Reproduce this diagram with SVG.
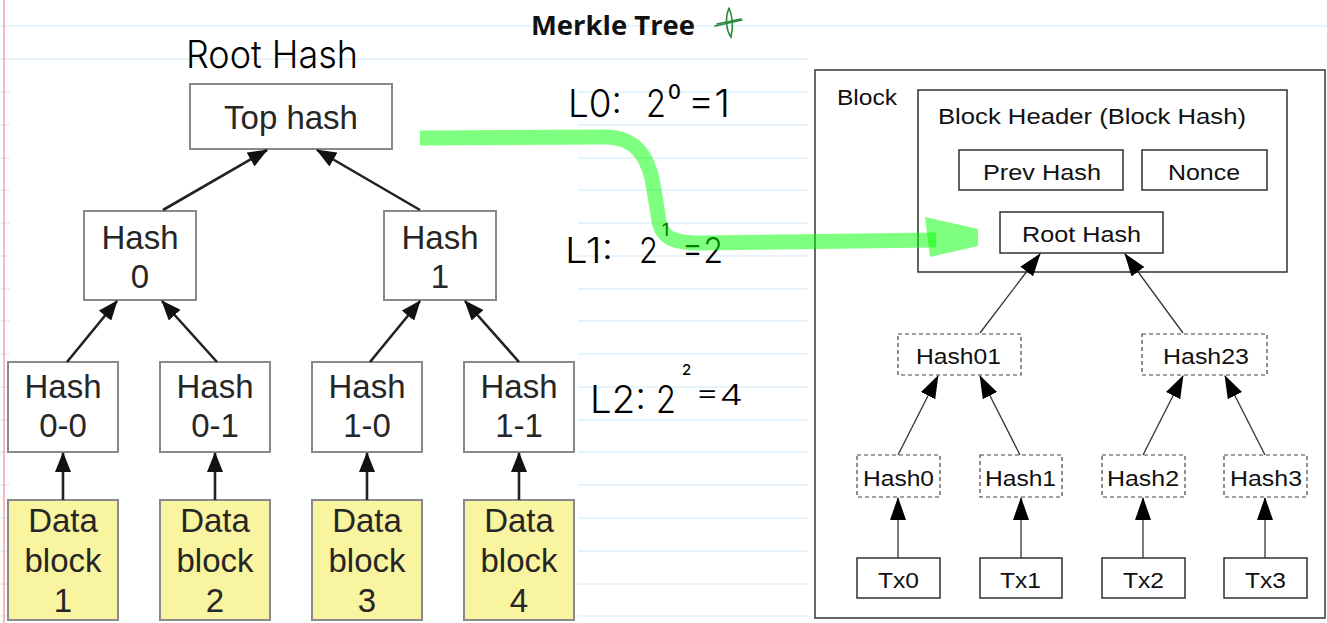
<svg xmlns="http://www.w3.org/2000/svg" width="1327" height="623" viewBox="0 0 1327 623">
  <style>
    .rule { stroke: #cfe8f6; stroke-width: 1; }
    .lbox { fill: #ffffff; stroke: #8a8a8a; stroke-width: 2; }
    .dbox { fill: #f8f4a0; stroke: #8a8a8a; stroke-width: 2; }
    .ltxt { font-family: "Liberation Sans", Arial, sans-serif; font-size: 33px; fill: #262626; text-anchor: middle; }
    .larrow { stroke: #222; stroke-width: 2.6; fill: none; marker-end: url(#lhead); }
    .rbox { fill: #ffffff; stroke: #222; stroke-width: 1.4; }
    .rdash { fill: #ffffff; stroke: #444; stroke-width: 1.2; stroke-dasharray: 4 3; }
    .rtxt { font-family: "Liberation Sans", Arial, sans-serif; font-size: 22px; fill: #111; }
    .rarrow { stroke: #333; stroke-width: 1.3; fill: none; marker-end: url(#rhead); }
    .hand { font-family: Inter, Lato, "Liberation Sans", sans-serif; font-weight: 300; fill: #000; }
    .sup { font-weight: 500; }
    .hl { fill: none; stroke: #00ff00; stroke-opacity: 0.5; stroke-width: 15; }
  </style>
  <defs>
    <marker id="lhead" markerUnits="userSpaceOnUse" markerWidth="20" markerHeight="16" refX="19" refY="8" orient="auto">
      <path d="M0,0 L20,8 L0,16 z" fill="#111"/>
    </marker>
    <marker id="rhead" markerUnits="userSpaceOnUse" markerWidth="23" markerHeight="16" refX="22" refY="8" orient="auto">
      <path d="M0,0 L23,8 L0,16 z" fill="#000"/>
    </marker>
  </defs>

  <!-- notebook page -->
  <rect x="0" y="0" width="1327" height="623" fill="#ffffff"/>
  <g id="ruling">
    <line class="rule" x1="0" y1="26" x2="1327" y2="26"/>
    <line class="rule" x1="0" y1="59" x2="1327" y2="59"/>
    <line class="rule" x1="0" y1="92" x2="1327" y2="92"/>
    <line class="rule" x1="0" y1="125" x2="1327" y2="125"/>
    <line class="rule" x1="0" y1="158" x2="1327" y2="158"/>
    <line class="rule" x1="0" y1="190" x2="1327" y2="190"/>
    <line class="rule" x1="0" y1="223" x2="1327" y2="223"/>
    <line class="rule" x1="0" y1="256" x2="1327" y2="256"/>
    <line class="rule" x1="0" y1="289" x2="1327" y2="289"/>
    <line class="rule" x1="0" y1="321" x2="1327" y2="321"/>
    <line class="rule" x1="0" y1="354" x2="1327" y2="354"/>
    <line class="rule" x1="0" y1="387" x2="1327" y2="387"/>
    <line class="rule" x1="0" y1="420" x2="1327" y2="420"/>
    <line class="rule" x1="0" y1="452" x2="1327" y2="452"/>
    <line class="rule" x1="0" y1="485" x2="1327" y2="485"/>
    <line class="rule" x1="0" y1="518" x2="1327" y2="518"/>
    <line class="rule" x1="0" y1="551" x2="1327" y2="551"/>
    <line class="rule" x1="0" y1="584" x2="1327" y2="584"/>
    <line class="rule" x1="0" y1="616" x2="1327" y2="616"/>
  </g>
  <!-- pasted picture backgrounds -->
  <rect x="10" y="63" width="568" height="560" fill="#ffffff"/>
  <rect x="808" y="56" width="519" height="567" fill="#ffffff"/>
  <line x1="4" y1="0" x2="4" y2="623" stroke="#f28b8b" stroke-width="1.2"/>

  <!-- title -->
  <text x="531" y="35" font-family="'Open Sans', 'Noto Sans', sans-serif" font-weight="700" font-size="27" fill="#111" textLength="164" lengthAdjust="spacingAndGlyphs">Merkle Tree</text>
  <g id="title-mark" stroke="#2a8a3a" stroke-width="1.6" fill="none" stroke-linecap="round">
    <path d="M729,8 C725,18 726,30 731,37 C733,28 733,17 729,8"/>
    <path d="M715,26 L742,20"/>
    <path d="M717,24 L741,19"/>
  </g>

  <!-- handwritten notes -->
  <text class="hand" x="186" y="68" font-size="38" textLength="172" lengthAdjust="spacingAndGlyphs">Root Hash</text>
  <g id="level-notes">
    <text class="hand" x="568" y="117" font-size="38" textLength="54" lengthAdjust="spacingAndGlyphs">L0:</text>
    <text class="hand" x="646" y="117" font-size="38" textLength="20" lengthAdjust="spacingAndGlyphs">2</text>
    <text class="hand sup" x="668" y="99" font-size="20">0</text>
    <text class="hand" x="688" y="117" font-size="38" textLength="42" lengthAdjust="spacingAndGlyphs">=1</text>

    <text class="hand" x="565" y="263" font-size="36" textLength="48" lengthAdjust="spacingAndGlyphs">L1:</text>
    <text class="hand" x="639" y="263" font-size="36" textLength="19" lengthAdjust="spacingAndGlyphs">2</text>
    <text class="hand sup" x="662" y="236" font-size="17">1</text>
    <text class="hand" x="682" y="263" font-size="36" textLength="41" lengthAdjust="spacingAndGlyphs">=2</text>

    <text class="hand" x="590" y="413" font-size="38" textLength="56" lengthAdjust="spacingAndGlyphs">L2:</text>
    <text class="hand" x="656" y="413" font-size="38" textLength="20" lengthAdjust="spacingAndGlyphs">2</text>
    <text class="hand sup" x="682" y="375" font-size="15">2</text>
    <text class="hand" x="695" y="405" font-size="29" font-weight="600" textLength="48" lengthAdjust="spacingAndGlyphs">=4</text>
  </g>

  <!-- hash tree -->
  <g id="top-hash">
    <rect class="lbox" x="190" y="84" width="202" height="65"/>
    <text class="ltxt" x="291" y="129" font-size="34">Top hash</text>
  </g>
  <g id="hash-0">
    <rect class="lbox" x="84" y="211" width="112" height="89"/>
    <text class="ltxt" x="140" y="249">Hash</text>
    <text class="ltxt" x="140" y="288">0</text>
  </g>
  <g id="hash-1">
    <rect class="lbox" x="384" y="211" width="112" height="89"/>
    <text class="ltxt" x="440" y="249">Hash</text>
    <text class="ltxt" x="440" y="288">1</text>
  </g>
  <g id="hash-0-0">
    <rect class="lbox" x="8" y="362" width="110" height="90"/>
    <text class="ltxt" x="63" y="398">Hash</text>
    <text class="ltxt" x="63" y="437">0-0</text>
  </g>
  <g id="hash-0-1">
    <rect class="lbox" x="160" y="362" width="110" height="90"/>
    <text class="ltxt" x="215" y="398">Hash</text>
    <text class="ltxt" x="215" y="437">0-1</text>
  </g>
  <g id="hash-1-0">
    <rect class="lbox" x="312" y="362" width="110" height="90"/>
    <text class="ltxt" x="367" y="398">Hash</text>
    <text class="ltxt" x="367" y="437">1-0</text>
  </g>
  <g id="hash-1-1">
    <rect class="lbox" x="464" y="362" width="110" height="90"/>
    <text class="ltxt" x="519" y="398">Hash</text>
    <text class="ltxt" x="519" y="437">1-1</text>
  </g>
  <g id="data-block-1">
    <rect class="dbox" x="8" y="500" width="110" height="120"/>
    <text class="ltxt" x="63" y="532">Data</text>
    <text class="ltxt" x="63" y="572">block</text>
    <text class="ltxt" x="63" y="612">1</text>
  </g>
  <g id="data-block-2">
    <rect class="dbox" x="160" y="500" width="110" height="120"/>
    <text class="ltxt" x="215" y="532">Data</text>
    <text class="ltxt" x="215" y="572">block</text>
    <text class="ltxt" x="215" y="612">2</text>
  </g>
  <g id="data-block-3">
    <rect class="dbox" x="312" y="500" width="110" height="120"/>
    <text class="ltxt" x="367" y="532">Data</text>
    <text class="ltxt" x="367" y="572">block</text>
    <text class="ltxt" x="367" y="612">3</text>
  </g>
  <g id="data-block-4">
    <rect class="dbox" x="464" y="500" width="110" height="120"/>
    <text class="ltxt" x="519" y="532">Data</text>
    <text class="ltxt" x="519" y="572">block</text>
    <text class="ltxt" x="519" y="612">4</text>
  </g>
  <g id="tree-connectors">
    <line class="larrow" x1="163" y1="210" x2="267" y2="150"/>
    <line class="larrow" x1="420" y1="210" x2="317" y2="150"/>
    <line class="larrow" x1="67" y1="362" x2="117" y2="301"/>
    <line class="larrow" x1="217" y1="362" x2="162" y2="301"/>
    <line class="larrow" x1="370" y1="362" x2="420" y2="301"/>
    <line class="larrow" x1="519" y1="362" x2="465" y2="301"/>
    <line class="larrow" x1="63" y1="500" x2="63" y2="453"/>
    <line class="larrow" x1="215" y1="500" x2="215" y2="453"/>
    <line class="larrow" x1="367" y1="500" x2="367" y2="453"/>
    <line class="larrow" x1="519" y1="500" x2="519" y2="453"/>
  </g>

  <!-- block structure -->
  <g id="block">
    <rect x="815" y="70" width="510" height="548" fill="none" stroke="#444" stroke-width="1.6"/>
    <text class="rtxt" x="837" y="105" textLength="60" lengthAdjust="spacingAndGlyphs">Block</text>
  </g>
  <g id="block-header">
    <rect class="rbox" x="918" y="90" width="369" height="182" fill="none"/>
    <text class="rtxt" x="938" y="124" textLength="308" lengthAdjust="spacingAndGlyphs">Block Header (Block Hash)</text>
  </g>
  <g id="prev-hash">
    <rect class="rbox" x="959" y="150" width="164" height="40"/>
    <text class="rtxt" x="983" y="180" textLength="118" lengthAdjust="spacingAndGlyphs">Prev Hash</text>
  </g>
  <g id="nonce">
    <rect class="rbox" x="1142" y="150" width="125" height="40"/>
    <text class="rtxt" x="1168" y="180" textLength="72" lengthAdjust="spacingAndGlyphs">Nonce</text>
  </g>
  <g id="root-hash">
    <rect class="rbox" x="1000" y="212" width="163" height="41"/>
    <text class="rtxt" x="1022" y="242" textLength="119" lengthAdjust="spacingAndGlyphs">Root Hash</text>
  </g>
  <g id="hash01">
    <rect class="rdash" x="898" y="334" width="123" height="41"/>
    <text class="rtxt" x="916" y="364" textLength="85" lengthAdjust="spacingAndGlyphs">Hash01</text>
  </g>
  <g id="hash23">
    <rect class="rdash" x="1142" y="334" width="125" height="41"/>
    <text class="rtxt" x="1163" y="364" textLength="86" lengthAdjust="spacingAndGlyphs">Hash23</text>
  </g>
  <g id="hash0">
    <rect class="rdash" x="857" y="455" width="83" height="42"/>
    <text class="rtxt" x="863" y="486" textLength="71" lengthAdjust="spacingAndGlyphs">Hash0</text>
  </g>
  <g id="hash1">
    <rect class="rdash" x="980" y="455" width="82" height="42"/>
    <text class="rtxt" x="985" y="486" textLength="71" lengthAdjust="spacingAndGlyphs">Hash1</text>
  </g>
  <g id="hash2">
    <rect class="rdash" x="1102" y="455" width="83" height="42"/>
    <text class="rtxt" x="1107" y="486" textLength="72" lengthAdjust="spacingAndGlyphs">Hash2</text>
  </g>
  <g id="hash3">
    <rect class="rdash" x="1224" y="455" width="83" height="42"/>
    <text class="rtxt" x="1230" y="486" textLength="72" lengthAdjust="spacingAndGlyphs">Hash3</text>
  </g>
  <g id="tx0">
    <rect class="rbox" x="857" y="558" width="83" height="40"/>
    <text class="rtxt" x="878" y="588" textLength="41" lengthAdjust="spacingAndGlyphs">Tx0</text>
  </g>
  <g id="tx1">
    <rect class="rbox" x="980" y="558" width="82" height="40"/>
    <text class="rtxt" x="1000" y="588" textLength="41" lengthAdjust="spacingAndGlyphs">Tx1</text>
  </g>
  <g id="tx2">
    <rect class="rbox" x="1102" y="558" width="83" height="40"/>
    <text class="rtxt" x="1123" y="588" textLength="41" lengthAdjust="spacingAndGlyphs">Tx2</text>
  </g>
  <g id="tx3">
    <rect class="rbox" x="1224" y="558" width="83" height="40"/>
    <text class="rtxt" x="1245" y="588" textLength="41" lengthAdjust="spacingAndGlyphs">Tx3</text>
  </g>
  <g id="block-connectors">
    <line class="rarrow" x1="980" y1="333" x2="1040" y2="254"/>
    <line class="rarrow" x1="1183" y1="333" x2="1125" y2="254"/>
    <line class="rarrow" x1="898" y1="455" x2="938" y2="376"/>
    <line class="rarrow" x1="1020" y1="455" x2="980" y2="376"/>
    <line class="rarrow" x1="1143" y1="455" x2="1183" y2="376"/>
    <line class="rarrow" x1="1265" y1="455" x2="1225" y2="376"/>
    <line class="rarrow" x1="898" y1="558" x2="898" y2="498"/>
    <line class="rarrow" x1="1021" y1="558" x2="1021" y2="498"/>
    <line class="rarrow" x1="1143" y1="558" x2="1143" y2="498"/>
    <line class="rarrow" x1="1265" y1="558" x2="1265" y2="498"/>
  </g>

  <!-- highlighter stroke from the top hash to the header's root hash -->
  <g id="highlight">
    <path class="hl" d="M420,138 L605,137 C638,137 650,160 654,190 L658,215 C660,235 668,242 695,243 L936,240"/>
    <path d="M925,217 L978,229 L978,246 L930,257 z" fill="#00ff00" fill-opacity="0.5"/>
  </g>
</svg>
